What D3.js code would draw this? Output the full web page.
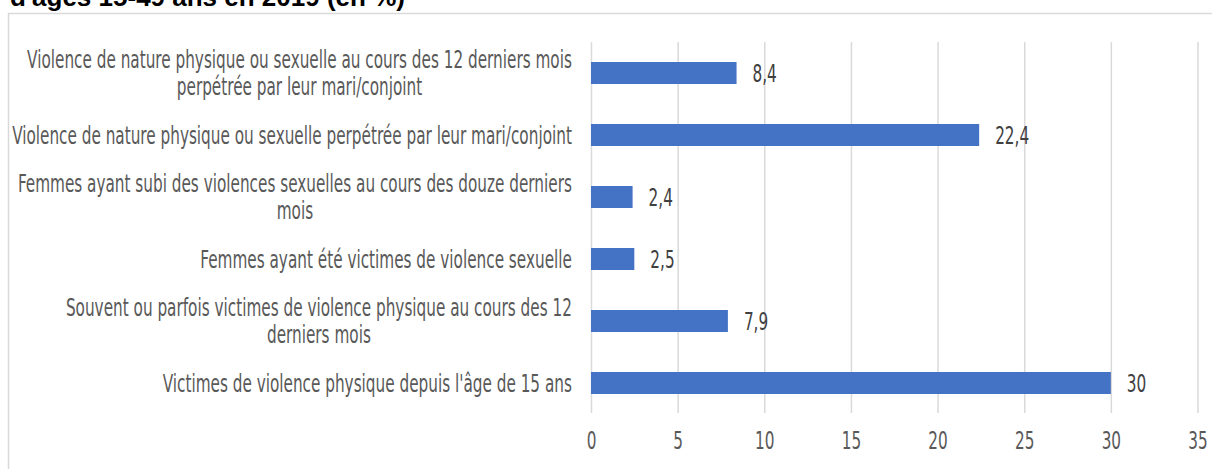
<!DOCTYPE html>
<html>
<head>
<meta charset="utf-8">
<script src="https://cdn.jsdelivr.net/npm/d3@7"></script>
<style>
  body { margin: 0; background: #fff; }
</style>
</head>
<body>
<div id="chart"></div>
<script>
// data
const titleText = "d'âgés 15-49 ans en 2019 (en %)";
const categories = [
  ["Violence de nature physique ou sexuelle au cours des 12 derniers mois", "perpétrée par leur mari/conjoint"],
  ["Violence de nature physique ou sexuelle perpétrée par leur mari/conjoint"],
  ["Femmes ayant subi des violences sexuelles au cours des douze derniers", "mois"],
  ["Femmes ayant été victimes de violence sexuelle"],
  ["Souvent ou parfois victimes de violence physique au cours des 12", "derniers mois"],
  ["Victimes de violence physique depuis l'âge de 15 ans"]
];
const values = [8.4, 22.4, 2.4, 2.5, 7.9, 30];
const xTicks = [0, 5, 10, 15, 20, 25, 30, 35];

const width = 1212, height = 469;
const font = "'Liberation Sans Narrow', 'Arial Narrow', 'DejaVu Sans Condensed', sans-serif";
const fontSize = 25;
const grey = '#d9d9d9';

const svg = d3.select('#chart').append('svg')
  .attr('width', width).attr('height', height)
  .style('display', 'block');

// chart frame (cut by the picture at right and bottom)
svg.append('rect')
  .attr('x', 8.5).attr('y', 13.5)
  .attr('width', width).attr('height', height)
  .attr('fill', '#fff').attr('stroke', grey).attr('stroke-width', 1.5);

// title, cut at the top
svg.append('text')
  .attr('x', 10).attr('y', 6)
  .attr('font-family', 'Liberation Sans, Arial, sans-serif')
  .attr('font-weight', 'bold').attr('font-size', 26)
  .attr('fill', '#000')
  .text(titleText);

const x = d3.scaleLinear().domain([0, 35]).range([591, 1197.5]);
const y = d3.scaleBand().domain(d3.range(categories.length))
  .range([42, 414]).paddingInner(0.645).paddingOuter(0.3225);

// measure the longest line to squeeze the condensed font
const probe = svg.append('text').attr('font-family', font).attr('font-size', fontSize)
  .text(categories[1][0]);
const sx = 560 / probe.node().getComputedTextLength();
probe.remove();

// x axis with gridlines
const xAxis = svg.append('g')
  .attr('transform', `translate(0,${y.range()[1] - 1})`)
  .call(d3.axisBottom(x).tickValues(xTicks).tickSize(-(y.range()[1] - y.range()[0] - 1)).tickPadding(0));
xAxis.select('.domain').remove();
xAxis.selectAll('.tick line').attr('stroke', grey).attr('stroke-width', 1.5);
xAxis.selectAll('.tick text')
  .attr('font-family', font).attr('font-size', fontSize)
  .attr('fill', '#595959')
  .attr('y', 27).attr('dy', '0.35em')
  .attr('transform', `scale(${sx},1)`);

// bars
svg.append('g').selectAll('rect').data(values).join('rect')
  .attr('x', x(0))
  .attr('y', (d, i) => y(i))
  .attr('width', d => x(d) - x(0))
  .attr('height', y.bandwidth())
  .attr('fill', '#4472c4');

// value labels
svg.append('g').selectAll('text').data(values).join('text')
  .attr('transform', (d, i) => `translate(${x(d) + 16},${y(i) + y.bandwidth() / 2}) scale(${sx},1)`)
  .attr('dy', '0.35em')
  .attr('font-family', font).attr('font-size', fontSize)
  .attr('fill', '#404040')
  .text(d => String(d).replace('.', ','));

// category labels: block right aligned, lines centred on each other
const labelRight = 572, lineGap = 27;
const labels = svg.append('g').selectAll('g').data(categories).join('g');
labels.each(function(lines, i) {
  const g = d3.select(this);
  const cy = y(i) + y.bandwidth() / 2;
  const t = g.selectAll('text').data(lines).join('text')
    .attr('font-family', font).attr('font-size', fontSize)
    .attr('fill', '#595959')
    .attr('text-anchor', 'middle')
    .attr('dy', '0.35em')
    .text(d => d);
  const w = d3.max(t.nodes(), n => n.getComputedTextLength()) * sx;
  const cx = labelRight - w / 2;
  t.attr('transform', (d, j) =>
    `translate(${cx},${cy + (j - (lines.length - 1) / 2) * lineGap}) scale(${sx},1)`);
});
</script>
</body>
</html>
